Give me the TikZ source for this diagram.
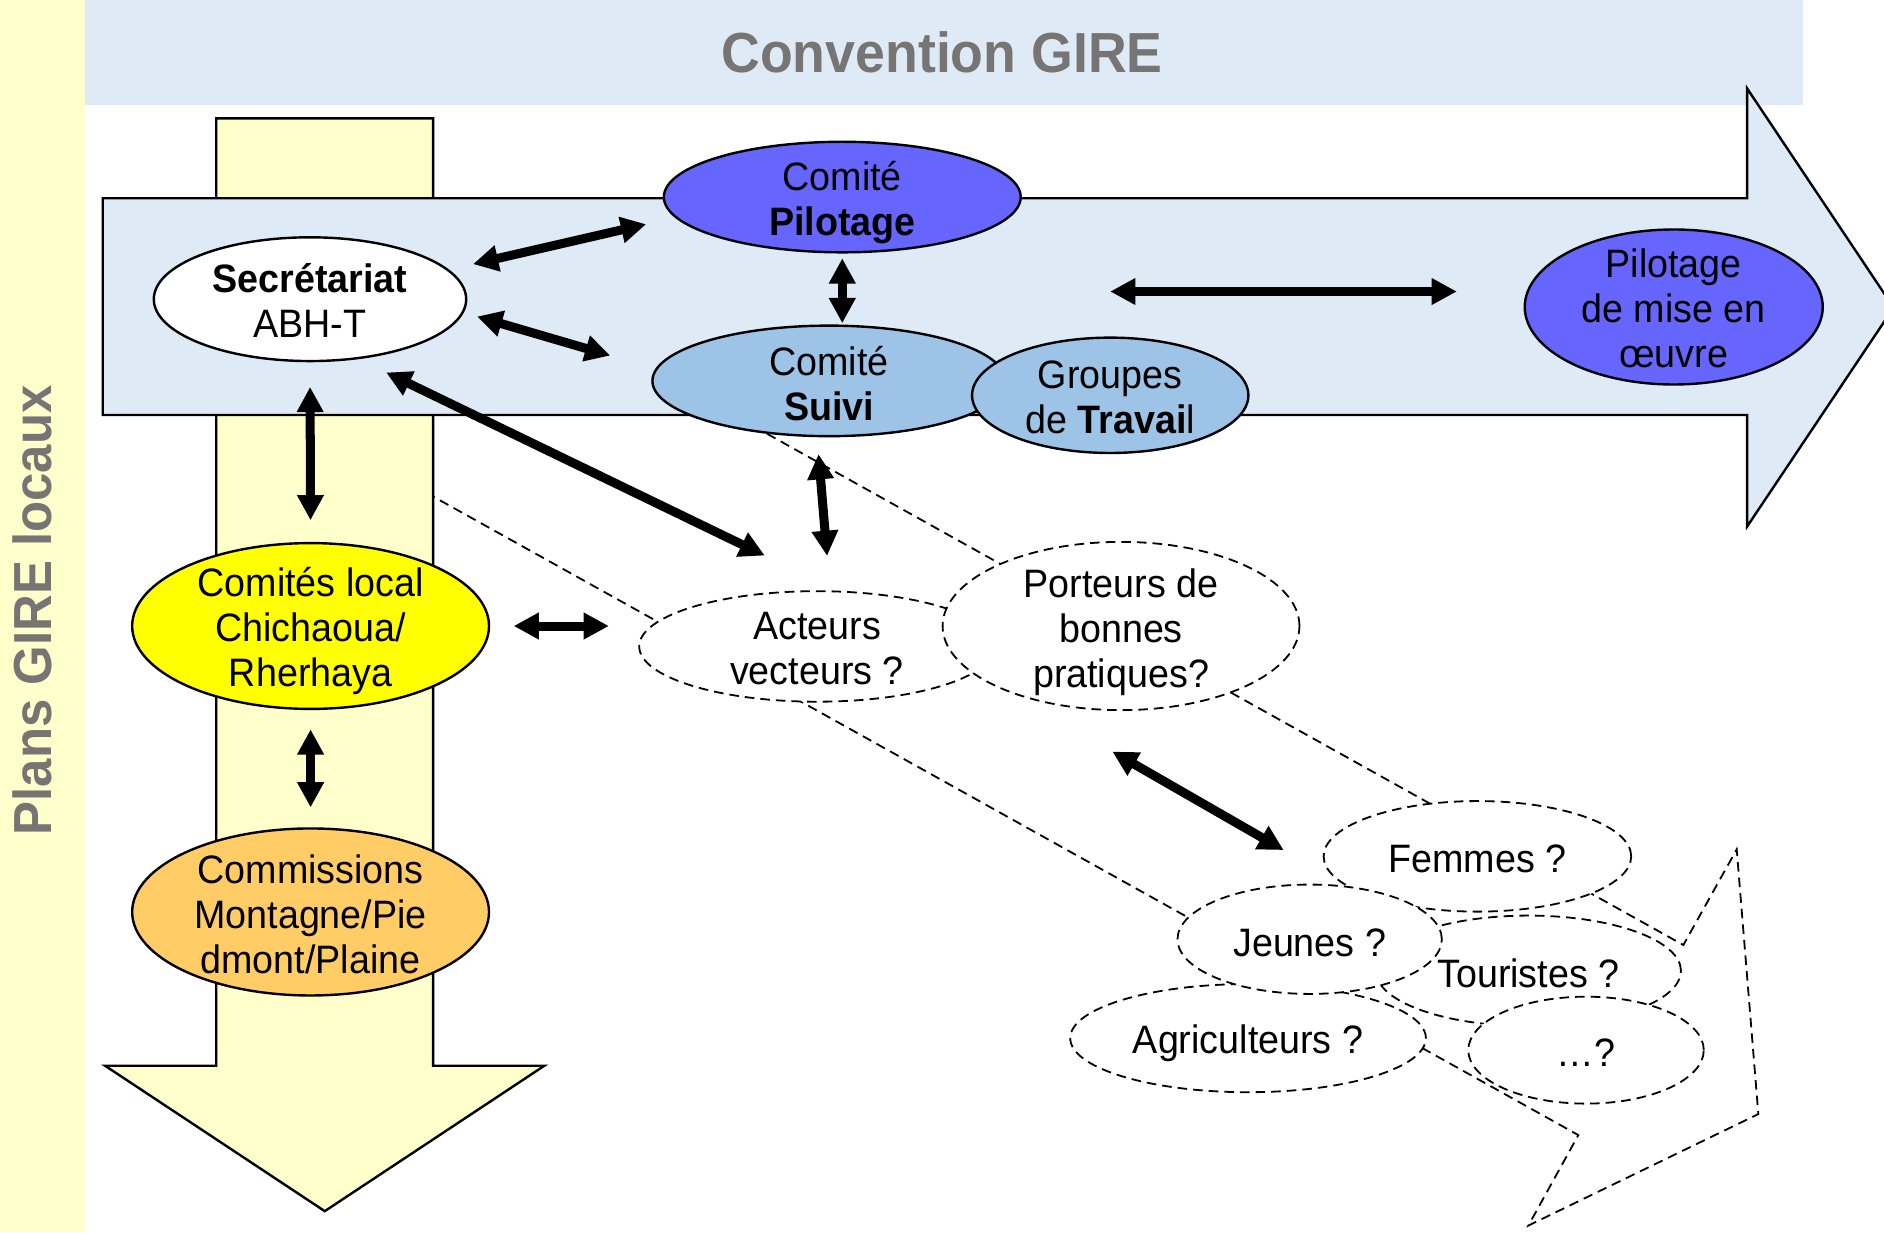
\documentclass[tikz,border=0pt]{standalone}
\usepackage{fontspec}
\setmainfont{Liberation Sans}[FakeStretch=0.95]
\usetikzlibrary{shapes.geometric,arrows.meta,calc}
\definecolor{bannerblue}{HTML}{DEEAF6}
\definecolor{paleyellow}{HTML}{FFFFCC}
\definecolor{pilblue}{HTML}{6666FF}
\definecolor{suiviblue}{HTML}{9DC3E6}
\definecolor{locyellow}{HTML}{FFFF00}
\definecolor{commorange}{HTML}{FFCC66}
\definecolor{titlegray}{HTML}{777474}
\begin{document}
\begin{tikzpicture}[x=1pt,y=-1pt,
  ell/.style={ellipse, draw=black, line width=2pt, inner sep=0pt},
  dashell/.style={ellipse, draw=black, line width=1.5pt, dash pattern=on 8pt off 5pt, fill=white, inner sep=0pt},
  txt/.style={align=center, inner sep=0pt, yshift=-2pt, font=\fontsize{33}{37.5}\selectfont},
  dbl/.style={<->, >={Triangle[length=21pt,width=21pt]}, line width=7.5pt},
  bigarrow/.style={draw=black, line width=2pt, line join=miter},
  dashline/.style={draw=black, line width=1.5pt, dash pattern=on 8pt off 5pt, line join=miter}
]
\useasboundingbox (0,0) rectangle (1568,1025.4);
% left strip and banner
\fill[paleyellow] (0,0) rectangle (70.5,1025.4);
\node[rotate=90, inner sep=0pt, font=\bfseries\fontsize{44.6}{50}\selectfont, text=titlegray] (plans) at (27,508) {Plans GIRE locaux};
\fill[bannerblue] (70.5,0) rectangle (1500.5,87.4);
\node[inner sep=0pt, font=\bfseries\fontsize{47}{50}\selectfont, text=titlegray] (conv) at (784,43.5) {Convention GIRE};

% dashed big arrow (back end hidden under the solid arrows)
\draw[dashline] (400,228) -- (1401,786.5) -- (1445.4,706.9) -- (1463.4,927.2) -- (1272,1020) -- (1313.6,944.7) -- (300,379.5) -- (300,228) -- cycle;

% vertical yellow arrow
\filldraw[fill=paleyellow, bigarrow] (180,98.5) -- (360.5,98.5) -- (360.5,887) -- (453,887) -- (270.3,1008) -- (87.5,887) -- (180,887) -- cycle;
% horizontal blue arrow
\filldraw[fill=bannerblue, bigarrow] (85.5,165) -- (1454,165) -- (1454,73.5) -- (1576,256) -- (1454,438.3) -- (1454,345.4) -- (85.5,345.4) -- cycle;

% solid nodes
\node[ell, fill=pilblue, minimum width=297pt, minimum height=92pt] (pil) at (701,164) {};
\node[txt, yshift=-3pt] (pil-t) at (pil) {Comité\\\textbf{Pilotage}};
\node[ell, fill=white, minimum width=260pt, minimum height=103pt] (sec) at (258,249) {};
\node[txt, yshift=1pt] (sec-t) at (sec) {\textbf{Secrétariat}\\ABH-T};
\node[ell, fill=suiviblue, minimum width=294pt, minimum height=92pt] (suivi) at (690,317) {};
\node[txt] (suivi-t) at (suivi) {Comité\\\textbf{Suivi}};
\node[ell, fill=suiviblue, minimum width=230pt, minimum height=96pt] (groupes) at (924,329) {};
\node[txt] (groupes-t) at (groupes) {Groupes\\de \textbf{Travai}l};
\node[ell, fill=pilblue, minimum width=248pt, minimum height=129pt] (mise) at (1393,255.5) {};
\node[txt, yshift=1pt] (mise-t) at (mise) {Pilotage\\de mise en\\œuvre};
\node[ell, fill=locyellow, minimum width=297pt, minimum height=138pt] (local) at (258.5,521) {};
\node[txt, yshift=-2.5pt] (local-t) at (local) {Comités local\\Chichaoua/\\Rherhaya};
\node[ell, fill=commorange, minimum width=297pt, minimum height=139pt] (comm) at (258.5,759) {};
\node[txt] (comm-t) at (comm) {Commissions\\Montagne/Pie\\dmont/Plaine};

% dashed nodes
\node[dashell, minimum width=296pt, minimum height=92pt] (act) at (680,538) {};
\node[txt] (act-t) at (act) {Acteurs\\vecteurs ?};
\node[dashell, minimum width=297pt, minimum height=140pt] (port) at (933,521) {};
\node[txt, yshift=-3.5pt] (port-t) at (port) {Porteurs de\\bonnes\\pratiques?};
\node[dashell, minimum width=296pt, minimum height=90pt] (agri) at (1038.7,864) {};
\node[txt, yshift=-2pt] (agri-t) at (agri) {Agriculteurs ?};
\node[dashell, minimum width=254pt, minimum height=92pt] (tour) at (1272,808) {};
\node[txt] (tour-t) at (tour) {Touristes ?};
\node[dashell, minimum width=196pt, minimum height=89pt] (dots) at (1320,874) {};
\node[txt] (dots-t) at (dots) {…?};
\node[dashell, minimum width=256pt, minimum height=92pt] (fem) at (1229.6,712.7) {};
\node[txt] (fem-t) at (fem) {Femmes ?};
\node[dashell, minimum width=220pt, minimum height=91pt] (jeun) at (1090,781.7) {};
\node[txt, yshift=-1pt] (jeun-t) at (jeun) {Jeunes ?};

% connectors
\draw[dbl, shorten <=20.5pt, shorten >=24.6pt] (sec.12) -- (pil.187.5);
\draw[dbl, shorten <=11.5pt, shorten >=39.1pt] (sec.-5.7) -- (suivi.176.9);
\draw[dbl, shorten <=4pt, shorten >=1pt] (pil.south) -- (pil.south |- suivi.north);
\draw[dbl, shorten >=58pt] (groupes.north |- mise.174) -- (mise.174);
\draw[dbl, shorten <=25.5pt, shorten >=67.1pt] (sec.-51.5) -- (act.70.7);
\draw[dbl, shorten <=14.1pt, shorten >=28.8pt] (suivi.-102.4) -- (act.77.9);
\draw[dbl, shorten <=20.5pt, shorten >=18pt] (sec.south) -- (local.north);
\draw[dbl, shorten <=19.5pt, shorten >=24.5pt] (local.east) -- (local.east -| act.west);
\draw[dbl, shorten <=16pt, shorten >=16.5pt] (local.south) -- (comm.north);
\draw[dbl, shorten <=98.3pt, shorten >=59.6pt] (port.-149.5) -- (jeun.56);
\end{tikzpicture}
\end{document}
